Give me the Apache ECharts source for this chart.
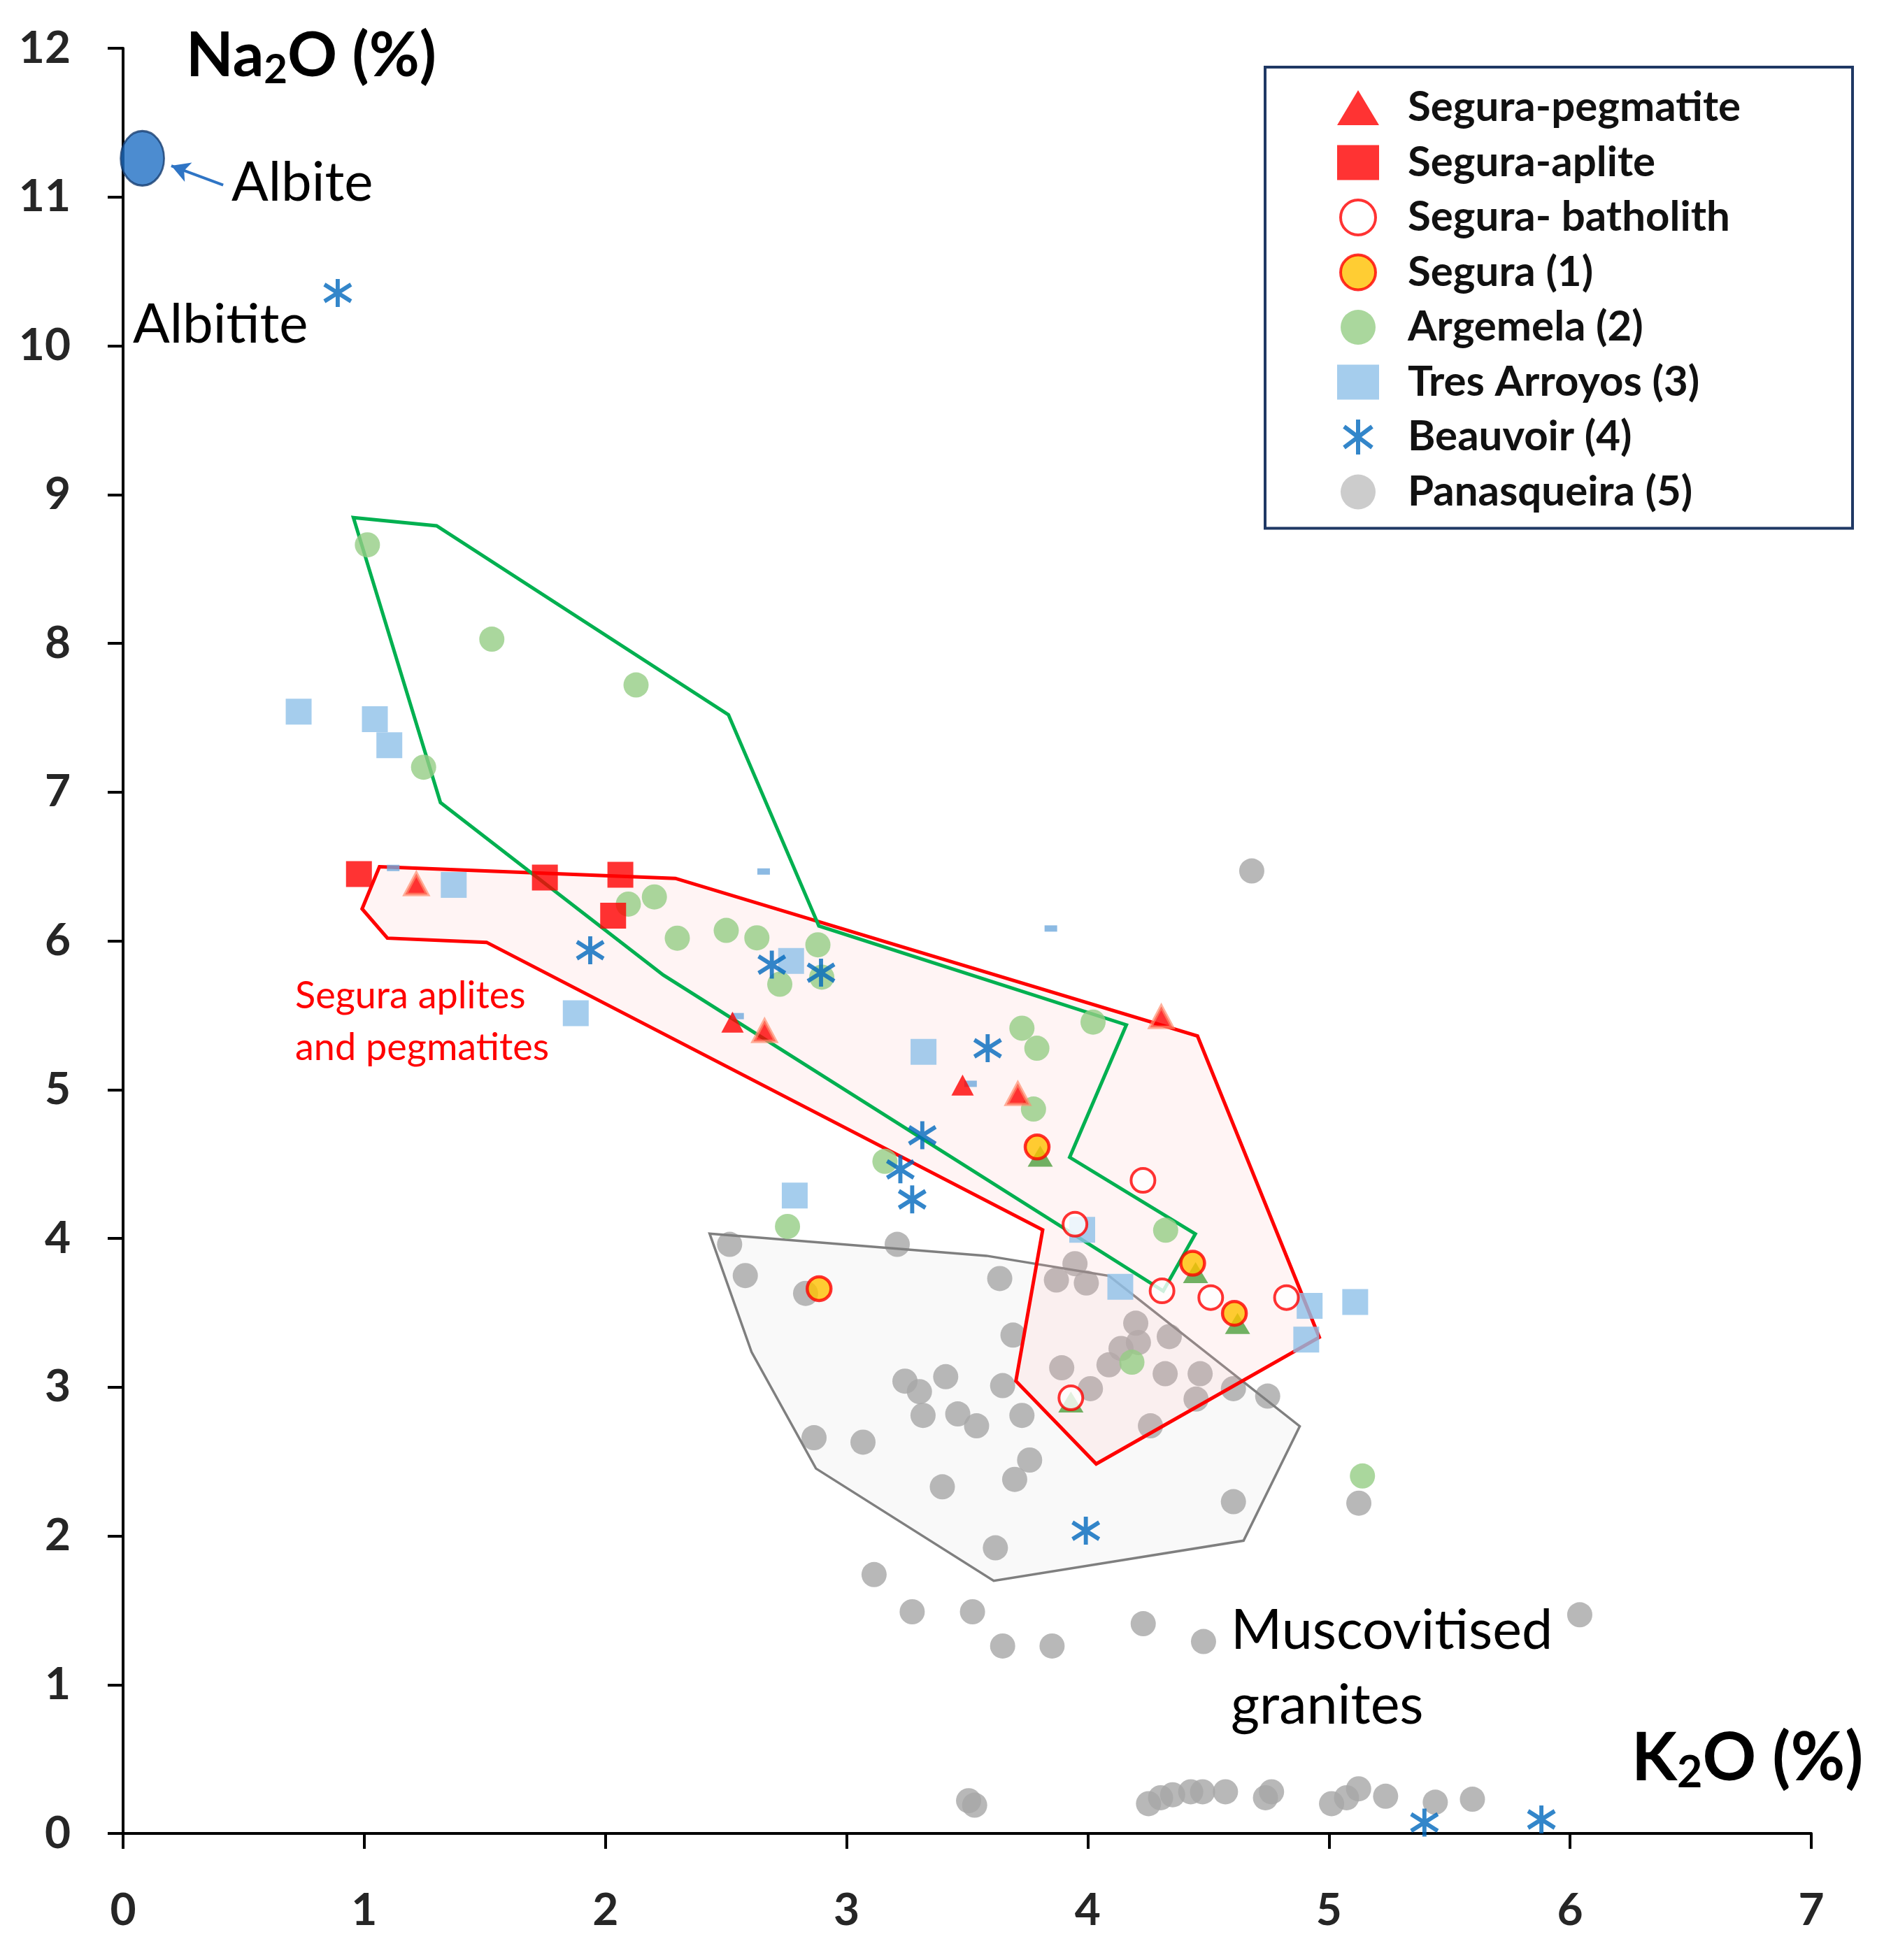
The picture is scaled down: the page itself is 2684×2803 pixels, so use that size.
<!DOCTYPE html>
<html><head><meta charset="utf-8">
<script src="https://cdn.jsdelivr.net/npm/echarts@6/dist/echarts.min.js"></script>
<style>html,body{margin:0;padding:0;background:#fff}#c{width:2684px;height:2803px}</style>
</head><body><div id="c"></div>
<script>
// ---- data (K2O %, Na2O %) ----
const seguraPegmatite = [[2.527,5.454],[3.481,5.03]];
const seguraPegmatiteHalo = [[1.216,6.382],[2.66,5.395],[3.71,4.971],[4.305,5.489]];
const seguraAplite = [[0.978,6.449],[1.749,6.425],[2.062,6.444],[2.032,6.169]];
const seguraBatholith = [[4.229,4.39],[3.947,4.095],[4.308,3.647],[4.51,3.602],[4.824,3.602],[3.93,2.928]];
const segura1 = [[3.79,4.614],[4.435,3.833],[4.608,3.496],[2.886,3.662]];
const greenTriangles = [[3.803,4.552],[4.447,3.77],[4.621,3.428],[3.93,2.90]];
const argemela = [[1.013,8.662],[1.529,8.028],[2.127,7.72],[1.246,7.167],[2.095,6.247],[2.203,6.295],
  [2.298,6.018],[2.501,6.07],[2.628,6.02],[2.881,5.973],[2.723,5.708],[2.897,5.756],[3.727,5.413],
  [3.789,5.278],[4.022,5.454],[3.775,4.869],[3.159,4.518],[2.755,4.08],[4.323,4.055],[4.183,3.168],[5.139,2.403]];
const tresArroyos = [[0.728,7.54],[1.044,7.49],[1.104,7.315],[1.371,6.376],[2.77,5.865],[1.877,5.513],
  [3.319,5.254],[2.785,4.288],[3.977,4.058],[4.135,3.675],[4.92,3.547],[5.109,3.572],[4.906,3.32]];
const tresArroyosSmall = [[1.12,6.49],[2.656,6.466],[3.847,6.083],[2.548,5.494],[3.514,5.039]];
const beauvoir = [[0.89,10.355],[1.937,5.937],[2.69,5.84],[2.894,5.786],[3.585,5.278],[3.314,4.693],
  [3.223,4.464],[3.272,4.262],[3.992,2.035],[5.396,0.073],[5.881,0.094]];
const panasqueira = [[4.68,6.47],
  [2.515,3.96],[2.58,3.75],[2.83,3.63],[3.21,3.96],
  [3.635,3.73],[3.947,3.83],[3.87,3.72],[3.994,3.70],
  [3.69,3.35],[4.199,3.43],[4.21,3.30],[4.138,3.26],[4.088,3.15],[4.338,3.34],
  [3.892,3.13],[4.011,2.99],[4.321,3.09],[4.466,3.09],[4.449,2.92],[4.604,2.99],[4.746,2.94],[4.26,2.74],
  [3.242,3.04],[3.302,2.97],[3.411,3.07],[3.317,2.81],[3.461,2.82],[3.539,2.74],[3.647,3.01],[3.727,2.81],
  [2.865,2.66],[3.068,2.63],[3.759,2.51],[3.697,2.38],[3.397,2.33],[3.617,1.92],
  [4.604,2.23],[5.124,2.22],
  [3.114,1.74],[3.272,1.49],[3.522,1.49],[3.647,1.26],[3.852,1.26],[4.23,1.41],[4.48,1.29],[6.04,1.47],
  [3.506,0.22],[3.531,0.19],[4.252,0.20],[4.302,0.24],[4.352,0.26],[4.427,0.28],[4.476,0.28],[4.571,0.28],
  [4.737,0.24],[4.762,0.28],[5.011,0.20],[5.073,0.24],[5.123,0.30],[5.235,0.25],[5.441,0.21],[5.595,0.23]];
const albite = [[0.08,11.26]];
const albiteArrow = [[0.415,11.08],[0.2,11.21]];
// fields (polygons)
const argemelaField = [[0.955,8.845],[1.30,8.79],[2.51,7.52],[2.885,6.10],[4.16,5.435],[3.925,4.545],
  [4.446,4.03],[4.313,3.646],[2.24,5.77],[1.316,6.93]];
const seguraField = [[1.063,6.498],[2.29,6.42],[4.455,5.36],[4.96,3.335],[4.035,2.484],[3.702,3.041],
  [3.813,4.057],[1.507,5.99],[1.096,6.018],[0.991,6.215]];
const panasqueiraField = [[2.432,4.032],[3.58,3.883],[4.088,3.748],[4.879,2.737],[4.646,1.968],
  [3.61,1.698],[2.873,2.453],[2.606,3.236]];
const xRange = [0, 7];
const yRange = [0, 12];
const legendNames = ['Segura-pegmatite','Segura-aplite','Segura- batholith','Segura (1)',
  'Argemela (2)','Tres Arroyos (3)','Beauvoir (4)','Panasqueira (5)'];

// ---- chart ----
const FONT = 'Lato';
const asterisk = 'path://M10,0L10,20M2,4L18,16M2,16L18,4';

function polygonSeries(name, pts, fill, stroke, lw, z) {
  return {
    type: 'custom', name: name, coordinateSystem: 'cartesian2d', z: z, silent: true,
    data: pts,
    renderItem: function (params, api) {
      if (params.dataIndex !== 0) return null;
      const points = pts.map(p => api.coord(p));
      return { type: 'polygon', shape: { points: points },
        style: { fill: fill, stroke: stroke, lineWidth: lw, lineJoin: 'miter' } };
    }
  };
}

function richTitle(size) {
  return {
    a: { fontFamily: FONT, fontWeight: 'bold', fontSize: size, lineHeight: size * 1.09, fill: '#000' },
    s: { fontFamily: FONT, fontWeight: 'bold', fontSize: size * 0.66, lineHeight: size * 0.48, verticalAlign: 'bottom', fill: '#000' }
  };
}

const chart = echarts.init(document.getElementById('c'));
chart.setOption({
  animation: false,
  backgroundColor: '#fff',
  grid: { left: 176, right: 94, top: 69, bottom: 181, containLabel: false },
  xAxis: {
    type: 'value', min: xRange[0], max: xRange[1], interval: 1,
    axisLine: { onZero: false, lineStyle: { color: '#000', width: 4 } },
    axisTick: { show: true, length: 22, lineStyle: { color: '#000', width: 4 } },
    splitLine: { show: false },
    axisLabel: { fontFamily: FONT, fontWeight: 'bold', fontSize: 64, color: '#262626', margin: 78 }
  },
  yAxis: {
    type: 'value', min: yRange[0], max: yRange[1], interval: 1,
    axisLine: { show: true, lineStyle: { color: '#000', width: 4 } },
    axisTick: { show: true, length: 22, lineStyle: { color: '#000', width: 4 } },
    splitLine: { show: false },
    axisLabel: { fontFamily: FONT, fontWeight: 'bold', fontSize: 64, color: '#262626', margin: 75 }
  },
  legend: {
    orient: 'vertical', left: 1809, top: 96,
    padding: [28, 160, 22, 103],
    itemWidth: 60, itemHeight: 50, itemGap: 18.5,
    borderColor: '#1f3864', borderWidth: 4, backgroundColor: '#fff',
    selectedMode: false,
    textStyle: { fontFamily: FONT, fontWeight: 'bold', fontSize: 60, color: '#111', padding: [0, 0, 0, 36] },
    data: [
      { name: legendNames[0], icon: 'triangle', itemStyle: { color: '#ff0000', borderWidth: 0 } },
      { name: legendNames[1], icon: 'rect', itemStyle: { color: '#ff0000', borderWidth: 0 } },
      { name: legendNames[2], icon: 'circle', itemStyle: { color: '#fff', borderColor: '#ff0000', borderWidth: 4 } },
      { name: legendNames[3], icon: 'circle', itemStyle: { color: '#ffc000', borderColor: '#ff0000', borderWidth: 4 } },
      { name: legendNames[4], icon: 'circle', itemStyle: { color: '#95cd85', borderWidth: 0 } },
      { name: legendNames[5], icon: 'rect', itemStyle: { color: '#8ec1e9', borderWidth: 0 } },
      { name: legendNames[6], icon: asterisk, itemStyle: { color: '#0068bd', borderColor: '#0068bd', borderWidth: 6 } },
      { name: legendNames[7], icon: 'circle', itemStyle: { color: '#bfbfbf', borderWidth: 0 } }
    ]
  },
  graphic: [
    { type: 'text', x: 266, y: 81, z: 100,
      style: { text: '{a|Na}{s|2}{a|O (%)}', align: 'left', verticalAlign: 'middle', fill: '#000', rich: richTitle(88) } },
    { type: 'text', x: 2333, y: 2515, z: 100,
      style: { text: '{a|K}{s|2}{a|O (%)}', align: 'left', verticalAlign: 'middle', fill: '#000', rich: richTitle(95) } },
    { type: 'text', x: 331, y: 262, z: 100,
      style: { text: 'Albite', font: '78px Lato', fill: '#000', align: 'left', verticalAlign: 'middle' } },
    { type: 'text', x: 190, y: 465, z: 100,
      style: { text: 'Albitite', font: '78px Lato', fill: '#000', align: 'left', verticalAlign: 'middle' } },
    { type: 'text', x: 1760, y: 2386, z: 100,
      style: { text: 'Muscovitised\ngranites', font: '79px Lato', lineHeight: 107, fill: '#000', align: 'left', verticalAlign: 'middle' } },
    { type: 'text', x: 422, y: 1462, z: 100,
      style: { text: 'Segura aplites\nand pegmatites', font: '54px Lato', lineHeight: 74, fill: '#ff0000', align: 'left', verticalAlign: 'middle' } }
  ],
  series: [
    polygonSeries('pfill', panasqueiraField, 'rgba(215,215,215,0.15)', null, 0, 1),
    { type: 'scatter', name: legendNames[7], data: panasqueira, z: 2, symbol: 'circle', symbolSize: 36,
      itemStyle: { color: '#a6a6a6' } },
    polygonSeries('pline', panasqueiraField, null, '#7f7f7f', 3.5, 3),
    polygonSeries('sfield', seguraField, 'rgba(255,180,180,0.15)', '#ff0000', 5, 4),
    polygonSeries('afield', argemelaField, null, '#00b050', 5, 5),
    { type: 'scatter', name: legendNames[5], data: tresArroyos, z: 6, symbol: 'rect', symbolSize: 37,
      itemStyle: { color: '#8ec1e9' } },
    { type: 'scatter', name: 'tr-small', data: tresArroyosSmall, z: 6, symbol: 'rect', symbolSize: [18, 9],
      itemStyle: { color: '#6fa9dc' } },
    { type: 'scatter', name: legendNames[4], data: argemela, z: 7, symbol: 'circle', symbolSize: 36,
      itemStyle: { color: '#95cd85' } },
    { type: 'scatter', name: legendNames[6], data: beauvoir, z: 8, symbol: asterisk, symbolSize: [38, 40],
      itemStyle: { color: '#0068bd', borderColor: '#0068bd', borderWidth: 6 } },
    { type: 'scatter', name: legendNames[1], data: seguraAplite, z: 9, symbol: 'rect', symbolSize: 37,
      itemStyle: { color: '#ff0000' } },
    { type: 'scatter', name: legendNames[0], data: seguraPegmatite, z: 9, symbol: 'triangle', symbolSize: [32, 30],
      itemStyle: { color: '#ff0000' } },
    { type: 'scatter', name: 'peg-halo', data: seguraPegmatiteHalo, z: 9, symbol: 'triangle', symbolSize: [32, 30],
      itemStyle: { color: '#ff0000', borderColor: 'rgba(255,140,110,0.85)', borderWidth: 5 } },
    { type: 'scatter', name: 'green-tri', data: greenTriangles, z: 9, symbol: 'triangle', symbolSize: [36, 30],
      itemStyle: { color: '#4e9f3d' } },
    { type: 'scatter', name: legendNames[2], data: seguraBatholith, z: 10, symbol: 'circle', symbolSize: 34,
      itemStyle: { color: '#ffffff', borderColor: '#ff0000', borderWidth: 4 } },
    { type: 'scatter', name: legendNames[3], data: segura1, z: 10, symbol: 'circle', symbolSize: 34,
      itemStyle: { color: '#ffc000', borderColor: '#ff0000', borderWidth: 4.5 } },
    { type: 'scatter', name: 'Albite', data: albite, z: 10, symbol: 'circle', symbolSize: [62, 78],
      itemStyle: { color: '#1f6fc4', borderColor: '#173d70', borderWidth: 3 },
      markLine: { silent: true, symbol: ['none', 'arrow'], symbolSize: [22, 26],
        lineStyle: { color: '#2f75c5', width: 4, type: 'solid' }, label: { show: false },
        data: [[{ coord: albiteArrow[0] }, { coord: albiteArrow[1] }]] } }
  ]
});
</script></body></html>
